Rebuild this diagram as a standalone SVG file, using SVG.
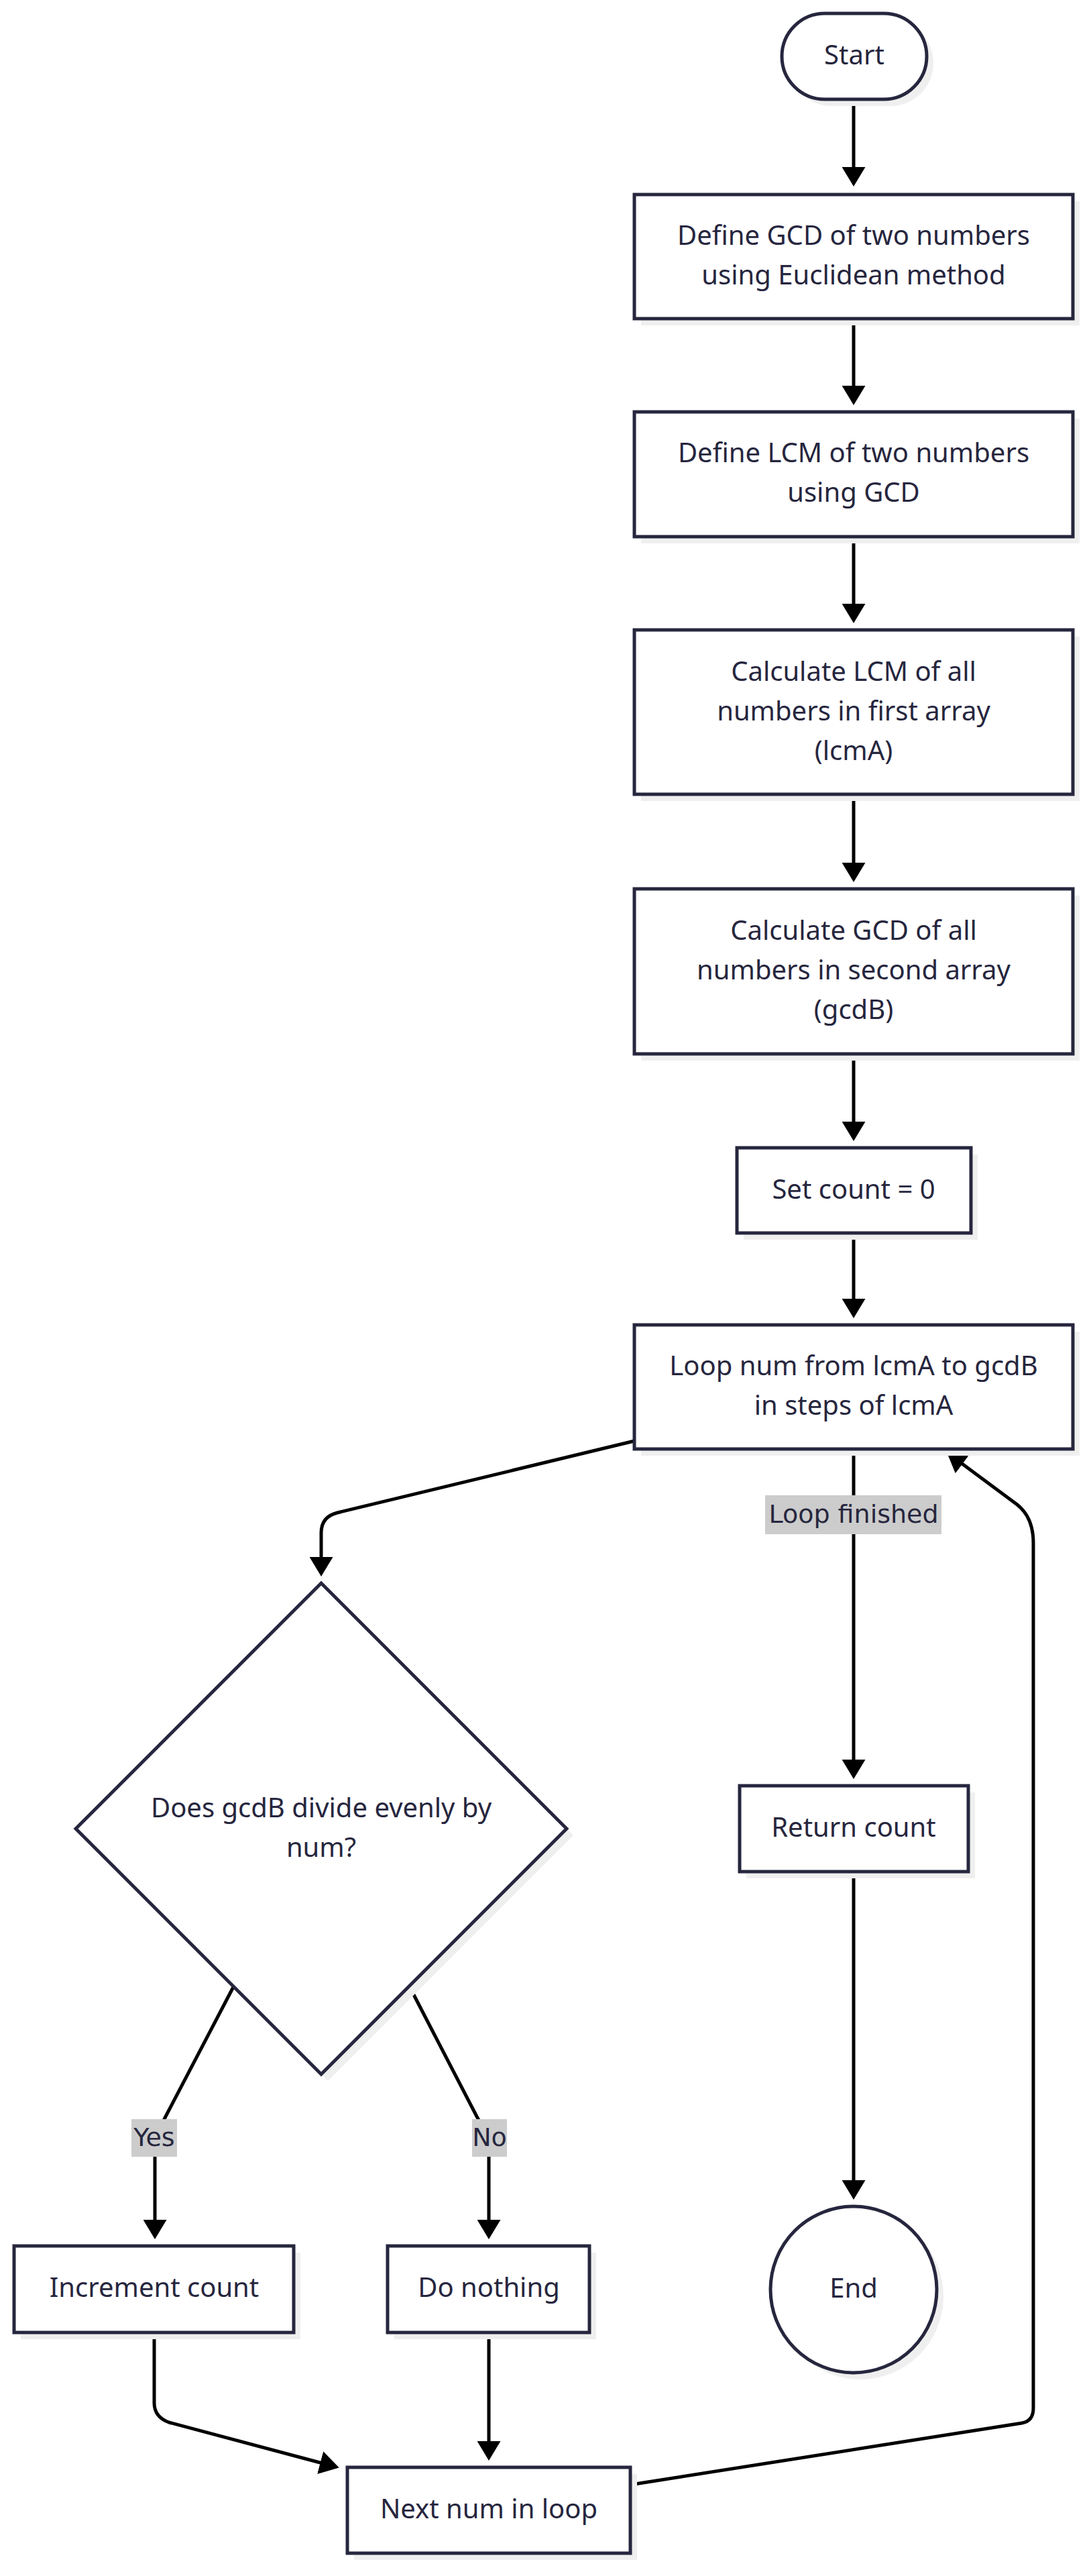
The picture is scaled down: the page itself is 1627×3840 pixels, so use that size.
<svg xmlns="http://www.w3.org/2000/svg" width="1627" height="3840" viewBox="0 0 1627 3840">
<style>
.node{fill:#ffffff;stroke:#26263e;stroke-width:5}
.sh{fill:#efefef;stroke:none}
.t{font-family:"Noto Sans","Open Sans",sans-serif;font-size:40px;fill:#26263e;text-anchor:middle;dominant-baseline:central}
.e{fill:none;stroke:#000000;stroke-width:5}
.lb{fill:#cccccc}
.lt{font-family:"DejaVu Sans",sans-serif;font-size:38px;fill:#26263e;text-anchor:middle;dominant-baseline:central}
</style>
<defs>
<marker id="ah" markerUnits="userSpaceOnUse" viewBox="0 0 29 35" markerWidth="29" markerHeight="35" refX="19" refY="17.5" orient="auto">
<path d="M0,0 L29,17.5 L0,35 z" fill="#000000"/>
</marker>
</defs>
<rect width="1627" height="3840" fill="#ffffff"/>
<g id="connectors">
<path class="e" d="M1273,148 L1273,268" marker-end="url(#ah)"/>
<path class="e" d="M1273,475 L1273,594" marker-end="url(#ah)"/>
<path class="e" d="M1273,800 L1273,919" marker-end="url(#ah)"/>
<path class="e" d="M1273,1184 L1273,1305" marker-end="url(#ah)"/>
<path class="e" d="M1273,1571 L1273,1691" marker-end="url(#ah)"/>
<path class="e" d="M1273,1838 L1273,1955" marker-end="url(#ah)"/>
<path class="e" d="M946,2148 L503,2255 Q479,2261 479,2285 L479,2340" marker-end="url(#ah)"/>
<path class="e" d="M1273,2160 L1273,2642" marker-end="url(#ah)"/>
<path class="e" d="M1273,2790 L1273,3269" marker-end="url(#ah)"/>
<path class="e" d="M349,2960 L247,3155 Q231,3185 231,3215 L231,3328" marker-end="url(#ah)"/>
<path class="e" d="M610,2960 L711,3155 Q729,3185 729,3215 L729,3328" marker-end="url(#ah)"/>
<path class="e" d="M230,3477 L230,3582 Q230,3603 252,3611 L496,3676" marker-end="url(#ah)"/>
<path class="e" d="M729,3477 L729,3658" marker-end="url(#ah)"/>
<path class="e" d="M940,3704 L1524,3612 Q1541,3609 1541,3590 L1541,2300 Q1541,2262 1517,2243 L1420,2171" marker-end="url(#ah)"/>
<g id="label-loop-finished">
<rect class="lb" x="1141" y="2229" width="263" height="58"/>
<text class="lt" x="1273" y="2257">Loop finished</text>
</g>
<g id="label-yes">
<rect class="lb" x="196" y="3159" width="68" height="56"/>
<text class="lt" x="230" y="3186">Yes</text>
</g>
<g id="label-no">
<rect class="lb" x="704" y="3159" width="52" height="56"/>
<text class="lt" x="730" y="3186">No</text>
</g>
</g>
<g id="start">
<rect class="sh" x="1176" y="30" width="216" height="128" rx="64"/>
<rect class="node" x="1166" y="20" width="216" height="128" rx="64"/>
<text class="t" x="1274" y="80">Start</text>
</g>
<g id="defineGCD">
<rect class="sh" x="956" y="300" width="654" height="185"/>
<rect class="node" x="946" y="290" width="654" height="185"/>
<text class="t" x="1273" y="349">Define GCD of two numbers</text>
<text class="t" x="1273" y="408">using Euclidean method</text>
</g>
<g id="defineLCM">
<rect class="sh" x="956" y="624" width="654" height="186"/>
<rect class="node" x="946" y="614" width="654" height="186"/>
<text class="t" x="1273" y="673">Define LCM of two numbers</text>
<text class="t" x="1273" y="732">using GCD</text>
</g>
<g id="calcLCM">
<rect class="sh" x="956" y="949" width="654" height="245"/>
<rect class="node" x="946" y="939" width="654" height="245"/>
<text class="t" x="1273" y="999">Calculate LCM of all</text>
<text class="t" x="1273" y="1058">numbers in first array</text>
<text class="t" x="1273" y="1117">(lcmA)</text>
</g>
<g id="calcGCD">
<rect class="sh" x="956" y="1335" width="654" height="246"/>
<rect class="node" x="946" y="1325" width="654" height="246"/>
<text class="t" x="1273" y="1385">Calculate GCD of all</text>
<text class="t" x="1273" y="1444">numbers in second array</text>
<text class="t" x="1273" y="1503">(gcdB)</text>
</g>
<g id="setCount">
<rect class="sh" x="1109" y="1721" width="349" height="127"/>
<rect class="node" x="1099" y="1711" width="349" height="127"/>
<text class="t" x="1273" y="1771">Set count = 0</text>
</g>
<g id="loop">
<rect class="sh" x="956" y="1985" width="654" height="185"/>
<rect class="node" x="946" y="1975" width="654" height="185"/>
<text class="t" x="1273" y="2034">Loop num from lcmA to gcdB</text>
<text class="t" x="1273" y="2093">in steps of lcmA</text>
</g>
<g id="decision">
<polygon class="sh" points="489,2370 855,2736 489,3102 123,2736"/>
<polygon class="node" points="479,2360 845,2726 479,3092 113,2726"/>
<text class="t" x="479" y="2693">Does gcdB divide evenly by</text>
<text class="t" x="479" y="2752">num?</text>
</g>
<g id="returnCount">
<rect class="sh" x="1113" y="2672" width="341" height="128"/>
<rect class="node" x="1103" y="2662" width="341" height="128"/>
<text class="t" x="1273" y="2722">Return count</text>
</g>
<g id="end">
<circle class="sh" cx="1283" cy="3423" r="124"/>
<circle class="node" cx="1273" cy="3413" r="124"/>
<text class="t" x="1273" y="3409">End</text>
</g>
<g id="increment">
<rect class="sh" x="31" y="3358" width="417" height="129"/>
<rect class="node" x="21" y="3348" width="417" height="129"/>
<text class="t" x="230" y="3408">Increment count</text>
</g>
<g id="doNothing">
<rect class="sh" x="588" y="3358" width="301" height="129"/>
<rect class="node" x="578" y="3348" width="301" height="129"/>
<text class="t" x="729" y="3408">Do nothing</text>
</g>
<g id="nextNum">
<rect class="sh" x="528" y="3688" width="422" height="128"/>
<rect class="node" x="518" y="3678" width="422" height="128"/>
<text class="t" x="729" y="3738">Next num in loop</text>
</g>
</svg>
